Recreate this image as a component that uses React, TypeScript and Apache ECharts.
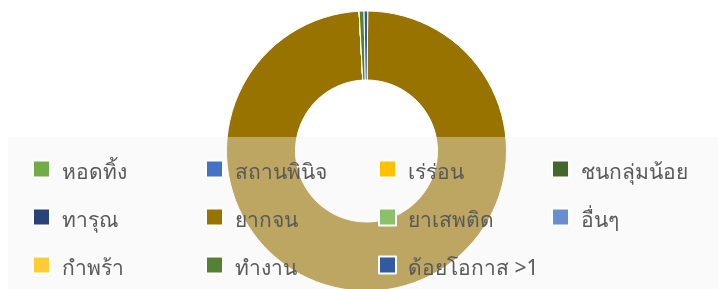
import React, { useEffect, useRef } from "react";
import * as echarts from "echarts";

const categories = [
  "หอดทิ้ง",
  "สถานพินิจ",
  "เร่ร่อน",
  "ชนกลุ่มน้อย",
  "ทารุณ",
  "ยากจน",
  "ยาเสพติด",
  "อื่นๆ",
  "กำพร้า",
  "ทำงาน",
  "ด้อยโอกาส >1",
];
const values = [0, 0, 0, 0, 0, 1420, 0, 0, 0, 8, 6];
const colors = [
  "#70ad47",
  "#4472c4",
  "#ffc000",
  "#43682b",
  "#264478",
  "#997300",
  "#8cc168",
  "#698ed0",
  "#ffcd33",
  "#548235",
  "#335aa1",
];

export default function App() {
  const ref = useRef<HTMLDivElement>(null);
  useEffect(() => {
    if (!ref.current) return;
    const chart = echarts.init(ref.current, undefined, { renderer: "svg" });
    chart.setOption({
      animation: false,
      color: colors,
      graphic: [
        {
          type: "rect",
          z: 3,
          shape: { x: 8, y: 137, width: 710, height: 152 },
          style: { fill: "rgba(242,242,242,0.4)" },
          silent: true,
        },
      ],
      legend: {
        left: 8,
        top: 137,
        padding: [20, 6, 6, 24],
        itemWidth: 17,
        itemHeight: 17,
        itemGap: 24,
        icon: "rect",
        data: categories,
        formatter: "{a|{name}}",
        textStyle: {
          rich: {
            a: {
              fontFamily: "Noto Sans, sans-serif",
              fontSize: 21,
              color: "#595959",
              width: 119,
              lineHeight: 24,
              padding: [3, 0, 0, 7],
            },
          },
        },
      },
      series: [
        {
          type: "pie",
          center: [366.5, 151],
          radius: [71, 140],
          startAngle: 89.5,
          clockwise: true,
          label: { show: false },
          labelLine: { show: false },
          itemStyle: { borderColor: "#ffffff", borderWidth: 1 },
          emphasis: { disabled: true },
          data: categories.map((c, i) => ({ name: c, value: values[i] })),
        },
      ],
    });
    return () => chart.dispose();
  }, []);
  return (
    <div
      ref={ref}
      style={{ position: "fixed", left: 0, top: 0, width: 718, height: 289 }}
    />
  );
}
